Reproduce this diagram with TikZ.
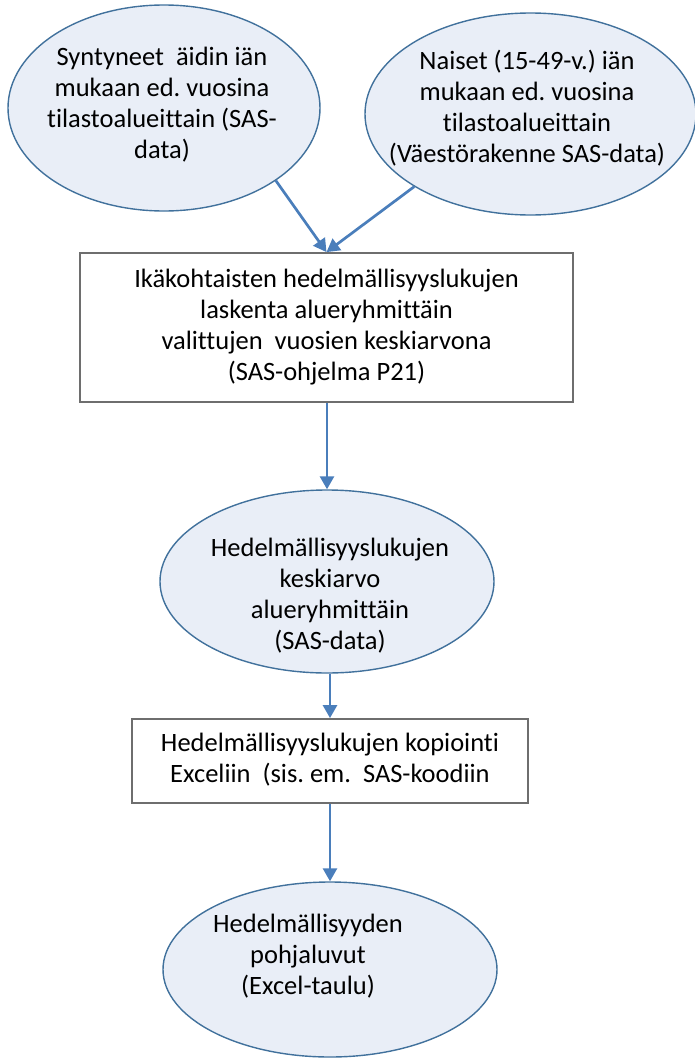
\documentclass[tikz,border=0pt]{standalone}
\usepackage{fontspec}
\setmainfont{Carlito}[Ligatures=NoCommon]
\usetikzlibrary{shapes.geometric,arrows.meta}
\definecolor{efill}{HTML}{E9EEF7}
\definecolor{edraw}{HTML}{41719C}
\definecolor{arrblue}{HTML}{4A7EBB}
\definecolor{boxdraw}{HTML}{6E6E6E}
\frenchspacing
\begin{document}
\begin{tikzpicture}[x=1pt,y=-1pt,
  ell/.style={ellipse, draw=edraw, fill=efill, line width=1.4pt, inner sep=0pt},
  boxnode/.style={rectangle, draw=boxdraw, line width=1.8pt, fill=white, inner sep=0pt, align=center, font=\fontsize{26.5}{31}\selectfont},
  txt/.style={align=center, inner sep=0pt, font=\fontsize{26.5}{31}\selectfont},
  arr/.style={draw=arrblue, line width=2.7pt, -{Triangle[length=13pt,width=14pt]}}
]
\useasboundingbox (0,0) rectangle (695,1060);
% ellipses
\node[ell, minimum width=312pt, minimum height=206pt] (e1) at (164,108) {};
\node[txt] (e1t) at (162,105.8) {\strut Syntyneet\ \ äidin iän\\ \strut mukaan ed. vuosina\\ \strut tilastoalueittain (SAS-\\ \strut data)};
\node[ell, minimum width=331pt, minimum height=202pt] (e2) at (530.5,114) {};
\node[txt] (e2t) at (527,109.3) {\strut Naiset (15-49-v.) iän\\ \strut mukaan ed. vuosina\\ \strut tilastoalueittain\\ \strut (Väestörakenne SAS-data)};
% box 1
\node[boxnode, minimum width=493pt, minimum height=149pt] (b1) at (326.5,327.5) {\strut Ikäkohtaisten hedelmällisyyslukujen\\ \strut laskenta alueryhmittäin\\ \strut valittujen\ \ vuosien keskiarvona\\ \strut (SAS-ohjelma P21)};
% ellipse 3
\node[ell, minimum width=334pt, minimum height=183pt] (e3) at (327,581.5) {};
\node[txt] (e3t) at (330,596.8) {\strut Hedelmällisyyslukujen\\ \strut keskiarvo\\ \strut alueryhmittäin\\ \strut (SAS-data)};
% box 2
\node[boxnode, minimum width=396pt, minimum height=84pt] (b2) at (330,761) {\strut Hedelmällisyyslukujen kopiointi\\ \strut Exceliin\ \ (sis. em.\ \ SAS-koodiin};
% ellipse 4
\node[ell, minimum width=334pt, minimum height=175pt] (e4) at (330,969.5) {};
\node[txt] (e4t) at (308,957.3) {\strut Hedelmällisyyden\\ \strut pohjaluvut\\ \strut (Excel-taulu)};
% arrows
\draw[arr] (e1.-33.4) -- (b1.north);
\draw[arr] (e2.-148.7) -- (b1.north);
\draw[arr] (e3.north |- b1.south) -- (e3.north);
\draw[arr] (e3.south -| b2.north) -- (b2.north);
\draw[arr] (b2.south) -- (e4.north);
\end{tikzpicture}
\end{document}
